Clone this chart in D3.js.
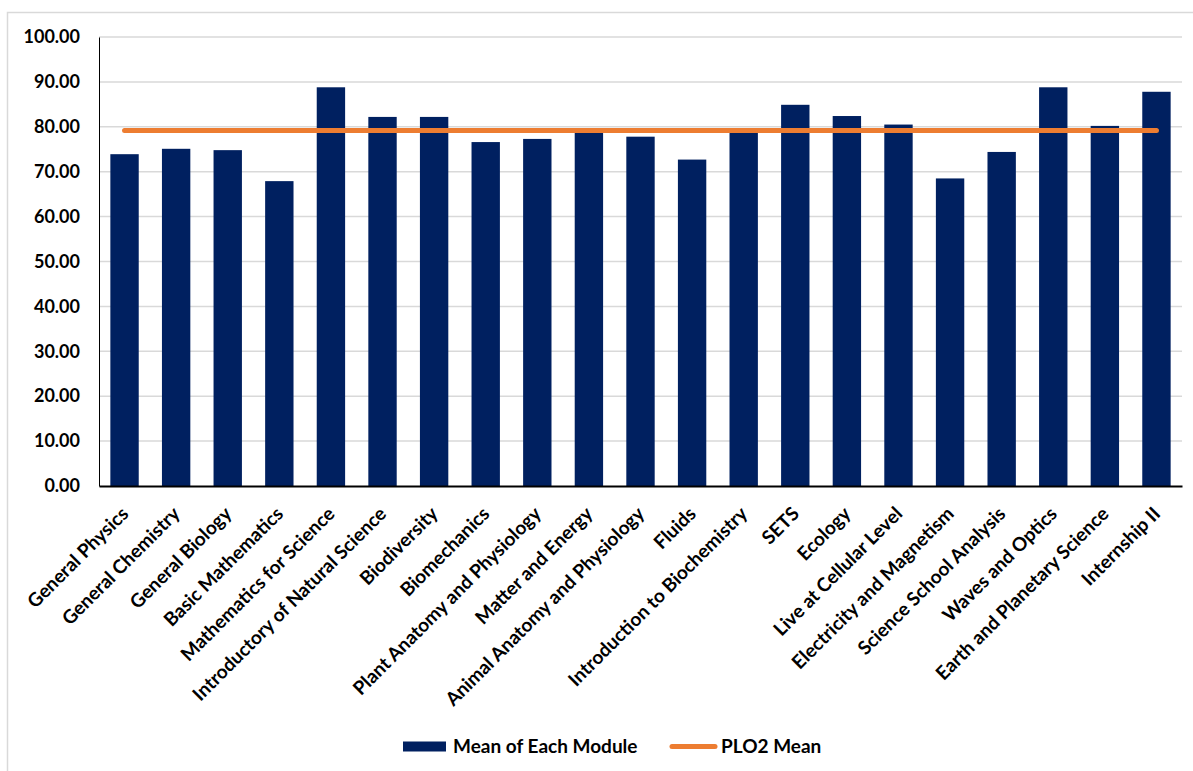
<!DOCTYPE html>
<html><head><meta charset="utf-8">
<script src="https://cdn.jsdelivr.net/npm/d3@7/dist/d3.min.js"></script>
<style>body{margin:0;background:#fff;}svg{display:block;}</style>
</head><body>
<svg id="c" width="1193" height="771"></svg>
<script>
const categories = ["General Physics","General Chemistry","General Biology","Basic Mathematics","Mathematics for Science","Introductory of Natural Science","Biodiversity","Biomechanics","Plant Anatomy and Physiology","Matter and Energy","Animal Anatomy and Physiology","Fluids","Introduction to Biochemistry","SETS","Ecology","Live at Cellular Level","Electricity and Magnetism","Science School Analysis","Waves and Optics","Earth and Planetary Science","Internship II"];
const moduleMeans = [73.9,75.1,74.8,67.9,88.8,82.2,82.2,76.6,77.3,78.8,77.8,72.7,79.0,84.9,82.4,80.5,68.5,74.4,88.8,80.2,87.8];
const ploMean = 79.2;
const yTicks = [0,10,20,30,40,50,60,70,80,90,100];
const seriesNames = ["Mean of Each Module","PLO2 Mean"];

const svg = d3.select("#c");
const font = "Lato, 'Open Sans', sans-serif";
const m = {left:99, right:1182, top:37, bottom:486};

// chart border
svg.append("rect").attr("x",7.5).attr("y",12.5).attr("width",1193).attr("height",800)
  .attr("fill","none").attr("stroke","#d9d9d9").attr("stroke-width",1.5);

const x = d3.scaleBand().domain(categories).range([m.left,m.right]).paddingInner(0.45).paddingOuter(0.22);
const y = d3.scaleLinear().domain([0,100]).range([m.bottom,m.top]);

// gridlines
svg.append("g").selectAll("line").data(yTicks.filter(d=>d>0)).join("line")
  .attr("x1",m.left).attr("x2",m.right).attr("y1",d=>y(d)).attr("y2",d=>y(d))
  .attr("stroke","#d9d9d9").attr("stroke-width",1.5);

// y axis
const ya = svg.append("g").attr("transform",`translate(${m.left},0)`)
  .call(d3.axisLeft(y).tickValues(yTicks).tickFormat(d3.format(".2f")).tickSize(0).tickPadding(19));
ya.select(".domain").attr("stroke","#000").attr("stroke-width",1);
ya.selectAll("text").attr("font-family",font).attr("font-weight","bold").attr("font-size",18).attr("fill","#000");

// bars
svg.append("g").selectAll("rect").data(moduleMeans).join("rect")
  .attr("x",(d,i)=>x(categories[i])).attr("width",x.bandwidth())
  .attr("y",d=>y(d)).attr("height",d=>y(0)-y(d)).attr("fill","#002060");

// x axis
const xa = svg.append("g").attr("transform",`translate(0,${m.bottom})`)
  .call(d3.axisBottom(x).tickSize(0).tickPadding(0));
xa.select(".domain").attr("stroke","#000").attr("stroke-width",2);
xa.selectAll("text").attr("font-family",font).attr("font-weight","bold").attr("font-size",19).attr("fill","#000")
  .attr("text-anchor","end").attr("dy",0).attr("dx",0)
  .attr("transform","translate(5,29) rotate(-45)");

// PLO line
const line = d3.line().x(d=>x(d)+x.bandwidth()/2).y(()=>y(ploMean));
svg.append("path").datum([categories[0],categories[categories.length-1]])
  .attr("d",line).attr("stroke","#ED7D31").attr("stroke-width",5).attr("stroke-linecap","round").attr("fill","none");

// legend
const lg = svg.append("g");
lg.append("rect").attr("x",403).attr("y",741.5).attr("width",43).attr("height",10).attr("fill","#002060");
lg.append("text").attr("x",453).attr("y",753).text(seriesNames[0])
  .attr("font-family",font).attr("font-weight","bold").attr("font-size",19);
lg.append("line").attr("x1",672).attr("x2",715).attr("y1",746.5).attr("y2",746.5)
  .attr("stroke","#ED7D31").attr("stroke-width",5).attr("stroke-linecap","round");
lg.append("text").attr("x",721).attr("y",753).text(seriesNames[1])
  .attr("font-family",font).attr("font-weight","bold").attr("font-size",19);
</script>
</body></html>
